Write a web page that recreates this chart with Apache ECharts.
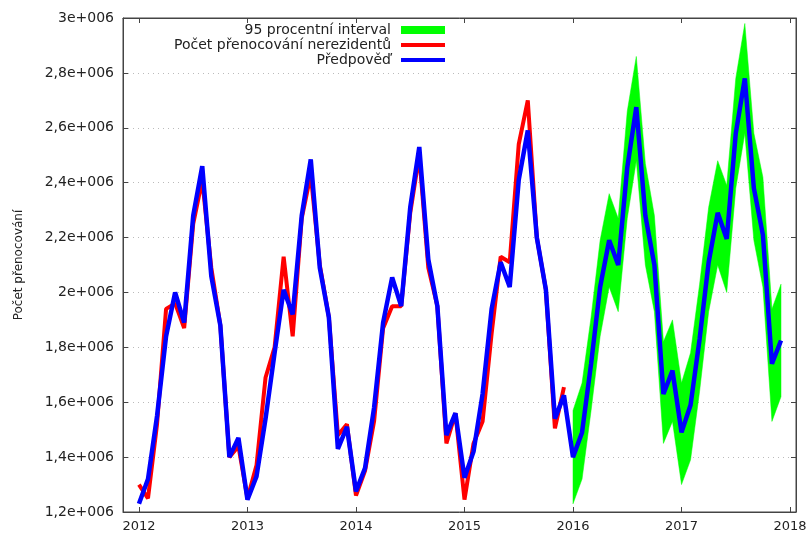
<!DOCTYPE html>
<html>
<head>
<meta charset="utf-8">
<script src="https://cdn.jsdelivr.net/npm/echarts@6/dist/echarts.min.js"></script>
<style>
html, body { margin: 0; padding: 0; background: #fff; }
#chart { width: 810px; height: 537px; }
</style>
</head>
<body>
<div id="chart"></div>
<script>
//roky na ose x
var yearTicks = [2012, 2013, 2014, 2015, 2016, 2017, 2018];

//pozorovane hodnoty 2012-2015 (v milionech)
var observed = [
	1.30, 1.25, 1.52, 1.94, 1.96, 1.87, 2.25, 2.41, 2.09, 1.88, 1.40, 1.44,
	1.25, 1.37, 1.69, 1.80, 2.13, 1.84, 2.27, 2.43, 2.10, 1.91, 1.48, 1.52,
	1.26, 1.35, 1.53, 1.87, 1.95, 1.95, 2.29, 2.50, 2.09, 1.95, 1.45, 1.56,
	1.245, 1.45, 1.53, 1.85, 2.13, 2.11, 2.54, 2.70, 2.20, 2.01, 1.505, 1.655
];

//model + predpoved 2012-2017 (v milionech)
var forecast = [
	1.23, 1.32, 1.55, 1.84, 2.00, 1.89, 2.28, 2.46, 2.06, 1.88, 1.40, 1.47,
	1.245, 1.33, 1.54, 1.78, 2.01, 1.92, 2.28, 2.485, 2.09, 1.91, 1.43, 1.51,
	1.275, 1.36, 1.58, 1.89, 2.055, 1.95, 2.31, 2.53, 2.12, 1.95, 1.48, 1.56,
	1.325, 1.42, 1.63, 1.94, 2.11, 2.02, 2.41, 2.59, 2.20, 2.01, 1.54, 1.625,
	1.40, 1.49, 1.74, 2.02, 2.19, 2.10, 2.455, 2.675, 2.28, 2.10, 1.63, 1.715,
	1.49, 1.59, 1.83, 2.11, 2.29, 2.195, 2.58, 2.78, 2.38, 2.21, 1.74, 1.825
];

//95% interval 2016-2017 (v milionech)
var ciUpper = [
	1.57, 1.67, 1.91, 2.19, 2.36, 2.27, 2.66, 2.86, 2.47, 2.28, 1.82, 1.90,
	1.67, 1.78, 2.03, 2.31, 2.48, 2.39, 2.78, 2.98, 2.58, 2.42, 1.94, 2.03
];
var ciLower = [
	1.23, 1.32, 1.57, 1.84, 2.02, 1.93, 2.27, 2.48, 2.10, 1.93, 1.45, 1.53,
	1.30, 1.39, 1.64, 1.93, 2.10, 2.00, 2.38, 2.58, 2.19, 2.02, 1.53, 1.62
];

var startYear = 2012;
var ciStartYear = 2016;

var names = ['95 procentní interval', 'Počet přenocování nerezidentů', 'Předpověď'];
var font = 'DejaVu Sans';

//mesicni rada -> [rok, hodnota]
var toPoints = function(arr, year0) {
	var out = [];
	for(var i = 0; i < arr.length; i++) {
		out.push([year0 + i / 12, arr[i] * 1e6]);
	}
	return out;
};

//data pro pas: [rok, dolni, horni]
var bandData = [];
for(var i = 0; i < ciUpper.length; i++) {
	bandData.push([ciStartYear + i / 12, ciLower[i] * 1e6, ciUpper[i] * 1e6]);
}

//cely pas jako jeden polygon (kresli se jen u prvni polozky)
var renderBand = function(params, api) {
	if(params.dataIndex !== 0) {
		return null;
	}
	var top = [], bottom = [];
	for(var i = 0; i < bandData.length; i++) {
		top.push(api.coord([bandData[i][0], bandData[i][2]]));
		bottom.unshift(api.coord([bandData[i][0], bandData[i][1]]));
	}
	return {
		type: 'polygon',
		shape: { points: top.concat(bottom) },
		style: { fill: '#00ff00', stroke: '#00ff00', lineWidth: 0.5 }
	};
};

var yFmt = function(v) {
	var m = parseFloat((v / 1e6).toFixed(1));
	return String(m).replace('.', ',') + 'e+006';
};

var legendItem = function(name, top, h) {
	return {
		data: [name],
		right: 365,
		top: top,
		padding: 0,
		align: 'right',
		orient: 'vertical',
		icon: 'rect',
		itemWidth: 44,
		itemHeight: h,
		selectedMode: false,
		textStyle: {
			fontFamily: font,
			fontSize: 14,
			color: '#222',
			padding: [0, 5, 0, 0]
		}
	};
};

var chart = echarts.init(document.getElementById('chart'));
chart.setOption({
	animation: false,
	backgroundColor: '#fff',
	grid: {
		left: 123,
		right: 14,
		top: 18,
		bottom: 25,
		show: true,
		borderColor: '#444',
		borderWidth: 1
	},
	legend: [
		legendItem(names[0], 23, 8),
		legendItem(names[1], 38, 4),
		legendItem(names[2], 53, 4)
	],
	xAxis: [{
		type: 'value',
		min: 2011.853,
		max: 2018.055,
		axisLine: { lineStyle: { color: '#444' } },
		axisTick: {
			inside: true,
			length: 5,
			customValues: yearTicks,
			lineStyle: { color: '#444' }
		},
		axisLabel: {
			customValues: yearTicks,
			formatter: function(v) { return String(Math.round(v)); },
			fontFamily: font,
			fontSize: 13,
			color: '#222',
			margin: 8
		},
		splitLine: { show: false }
	}, {
		type: 'value',
		position: 'top',
		min: 2011.853,
		max: 2018.055,
		axisLine: { lineStyle: { color: '#444' } },
		axisTick: {
			inside: true,
			length: 5,
			customValues: yearTicks,
			lineStyle: { color: '#444' }
		},
		axisLabel: { show: false },
		splitLine: { show: false }
	}],
	yAxis: [{
		type: 'value',
		min: 1.2e6,
		max: 3e6,
		interval: 2e5,
		name: 'Počet přenocování',
		nameLocation: 'middle',
		nameRotate: 90,
		nameGap: 98,
		nameTextStyle: { fontFamily: font, fontSize: 12, color: '#222' },
		axisLine: { show: true, lineStyle: { color: '#444' } },
		axisTick: { show: true, inside: true, length: 5, lineStyle: { color: '#444' } },
		axisLabel: {
			formatter: yFmt,
			fontFamily: font,
			fontSize: 14,
			color: '#222',
			margin: 9
		},
		splitLine: {
			show: true,
			lineStyle: { color: '#bbb', type: [1, 4], width: 1 }
		}
	}, {
		type: 'value',
		position: 'right',
		min: 1.2e6,
		max: 3e6,
		interval: 2e5,
		axisLine: { show: true, lineStyle: { color: '#444' } },
		axisTick: { show: true, inside: true, length: 5, lineStyle: { color: '#444' } },
		axisLabel: { show: false },
		splitLine: { show: false }
	}],
	series: [{
		name: names[0],
		type: 'custom',
		renderItem: renderBand,
		color: '#00ff00',
		itemStyle: { color: '#00ff00' },
		encode: { x: 0, y: [1, 2] },
		data: bandData,
		z: 1
	}, {
		name: names[1],
		type: 'line',
		symbol: 'none',
		color: '#ff0000',
		itemStyle: { color: '#ff0000' },
		lineStyle: { color: '#ff0000', width: 4 },
		data: toPoints(observed, startYear),
		z: 2
	}, {
		name: names[2],
		type: 'line',
		symbol: 'none',
		color: '#0000ff',
		itemStyle: { color: '#0000ff' },
		lineStyle: { color: '#0000ff', width: 4.5 },
		data: toPoints(forecast, startYear),
		z: 3
	}]
});
</script>
</body>
</html>
